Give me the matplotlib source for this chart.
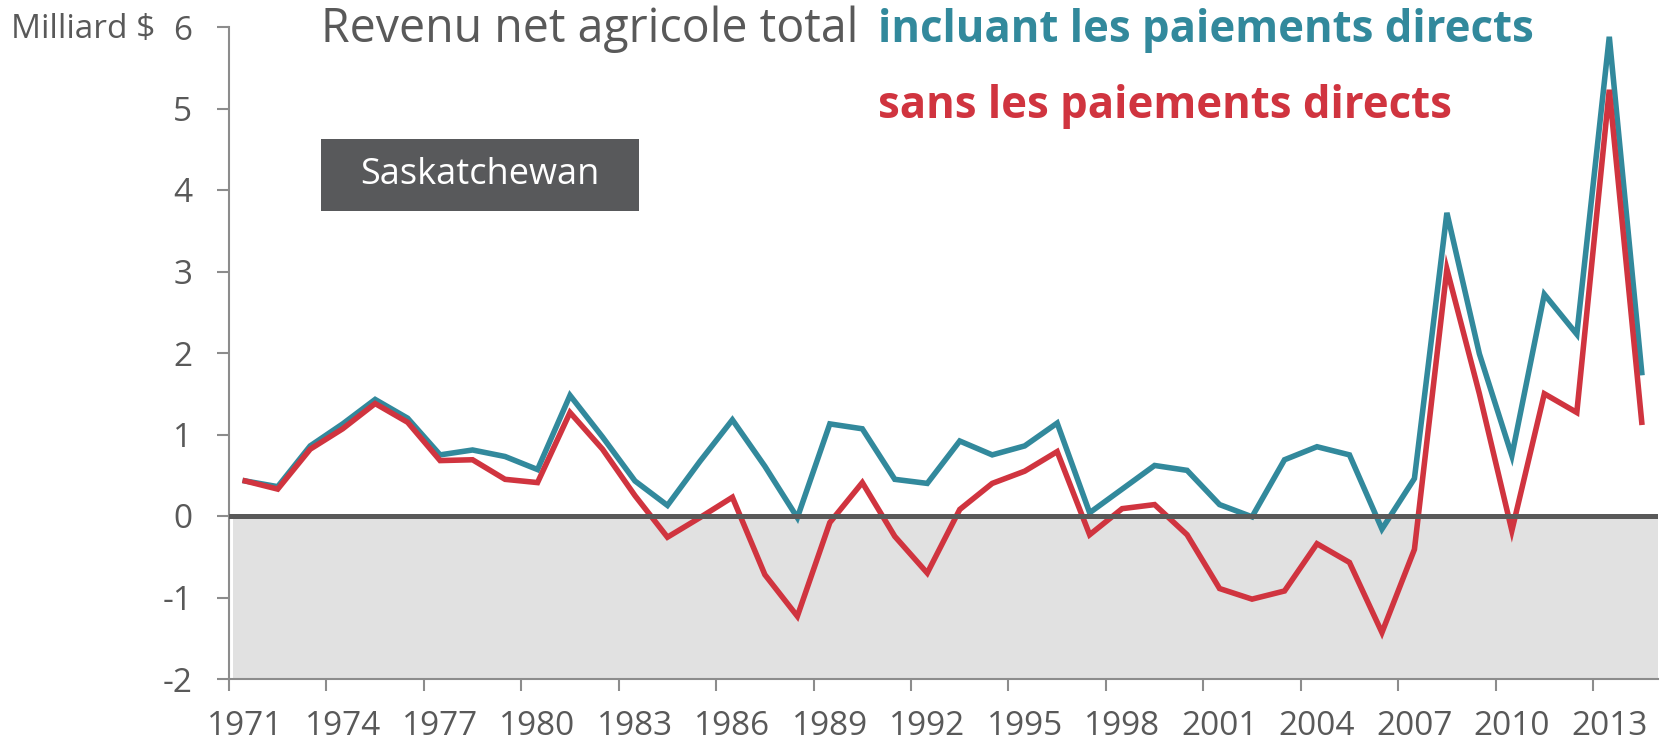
import matplotlib
matplotlib.use("Agg")
import matplotlib.pyplot as plt
from matplotlib.patches import Rectangle

plt.rcParams["font.family"] = ["Open Sans", "DejaVu Sans"]

# Data (milliard $), Saskatchewan
years = list(range(1971, 2015))
with_direct = [0.43, 0.36, 0.86, 1.13, 1.43, 1.20, 0.75, 0.81, 0.73, 0.57,
               1.48, 0.97, 0.43, 0.13, 0.67, 1.18, 0.61, -0.02, 1.13, 1.07,
               0.45, 0.40, 0.92, 0.75, 0.86, 1.14, 0.04, 0.33, 0.62, 0.56,
               0.14, -0.01, 0.69, 0.85, 0.75, -0.16, 0.46, 3.72, 1.99, 0.74,
               2.72, 2.23, 5.88, 1.76]
without_direct = [0.43, 0.33, 0.82, 1.07, 1.38, 1.15, 0.68, 0.69, 0.45, 0.41,
                  1.27, 0.82, 0.25, -0.26, -0.02, 0.23, -0.72, -1.23, -0.08, 0.41,
                  -0.25, -0.70, 0.08, 0.40, 0.55, 0.79, -0.23, 0.09, 0.14, -0.23,
                  -0.89, -1.02, -0.92, -0.34, -0.57, -1.43, -0.41, 3.03, 1.50, -0.18,
                  1.50, 1.27, 5.23, 1.15]
yticks = [-2, -1, 0, 1, 2, 3, 4, 5, 6]

TEAL = "#32899C"
RED = "#D0343F"
GREY = "#595959"
AXIS = "#8C8C8C"

W, H = 1676, 742
fig = plt.figure(figsize=(W / 100, H / 100), dpi=100)
ax = fig.add_axes([229 / W, 1 - 679 / H, (1658 - 229) / W, (679 - 27) / H])

x = list(range(len(years)))
ax.axhspan(-2, 0, xmin=0.003, color="#E1E1E1", lw=0, zorder=0)
ax.plot(x, with_direct, color=TEAL, lw=4.0, solid_joinstyle="miter", zorder=3)
ax.plot(x, without_direct, color=RED, lw=4.0, solid_joinstyle="miter", zorder=4)
ax.axhline(0, color=GREY, lw=3.6, zorder=5)

ax.set_xlim(-0.5, len(years) - 0.5)
ax.set_ylim(-2, 6)
ax.set_yticks(yticks)
ax.set_yticklabels([str(v) for v in yticks])

# category axis: ticks between groups of 3 years, labels every 3 years
ax.set_xticks([i - 0.5 for i in range(0, len(years) + 1, 3)])
ax.set_xticklabels([])
ax.set_xticks(x[::3], minor=True)
ax.set_xticklabels([str(y) for y in years[::3]], minor=True)
ax.tick_params(axis="x", which="major", length=8.5, width=1.5, color=AXIS, direction="out")
ax.tick_params(axis="x", which="minor", length=0, pad=22, labelsize=24, labelcolor=GREY)
ax.tick_params(axis="y", length=8.5, width=1.5, color=AXIS, pad=18, labelsize=24, labelcolor=GREY)

for s in ["top", "right"]:
    ax.spines[s].set_visible(False)
for s in ["left", "bottom"]:
    ax.spines[s].set_color(AXIS)
    ax.spines[s].set_linewidth(1.5)

# titles
fig.text(321 / W, 1 - 42 / H, "Revenu net agricole total", color=GREY, fontsize=33.5,
         ha="left", va="baseline")
fig.text(878 / W, 1 - 42 / H, "incluant les paiements directs", color=TEAL, fontsize=31.5,
         fontweight="bold", ha="left", va="baseline")
fig.text(878 / W, 1 - 118 / H, "sans les paiements directs", color=RED, fontsize=31.5,
         fontweight="bold", ha="left", va="baseline")
fig.text(155 / W, 1 - 38 / H, "Milliard $", color=GREY, fontsize=24, ha="right", va="baseline")

# province box
fig.patches.append(Rectangle((321 / W, 1 - 211 / H), (639 - 321) / W, (211 - 139) / H,
                             transform=fig.transFigure, facecolor="#58595B", edgecolor="none"))
fig.text(480 / W, 1 - 175 / H, "Saskatchewan", color="white", fontsize=26,
         ha="center", va="center")

fig.savefig("out.png", dpi=100)
